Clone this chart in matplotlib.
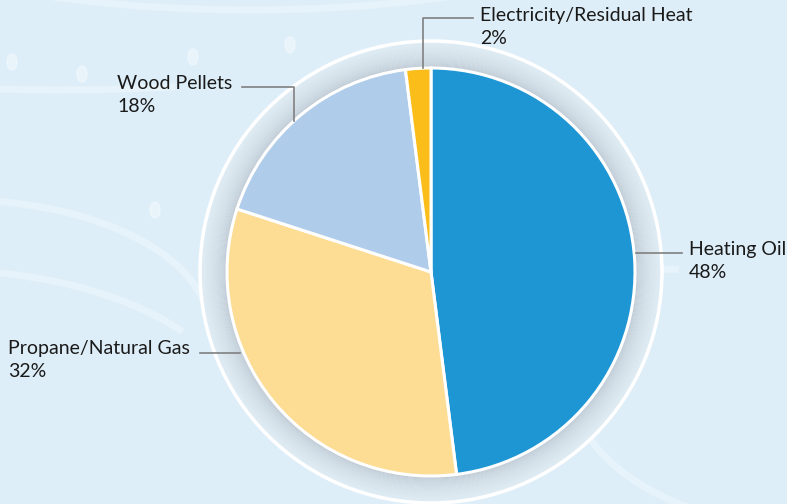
import matplotlib.pyplot as plt
import numpy as np
from matplotlib.patches import Wedge, Circle, Arc, Ellipse

# data
labels = ['Heating Oil', 'Propane/Natural Gas', 'Wood Pellets', 'Electricity/Residual Heat']
shares = [48, 32, 18, 2]
colors = ['#1e96d4', '#fddc94', '#afcdea', '#fbbd19']

# label layout (pixels, origin top-left): text x, first-line baseline y, leader elbow
text_pos = [(689, 255), (8, 354), (117, 89), (480, 21)]
leader = [[(682, 253), (636, 253)],
          [(200, 353), (240, 353)],
          [(242, 87), (294, 87), (294, None)],
          [(473, 18), (423, 18), (423, None)]]

W, H = 787, 504
cx, cy, R = 431, 272, 204
fig = plt.figure(figsize=(W / 100, H / 100), dpi=100)
fig.patch.set_facecolor('#deeef8')
ax = fig.add_axes([0, 0, 1, 1])

def up(y):
    return H - y

# background decoration (faint waves and dots)
for (x, y, w, h, a1, a2) in [(250, -120, 900, 260, 180, 360), (60, -10, 900, 200, 180, 320),
                             (-60, 420, 600, 300, 20, 110), (-40, 330, 500, 260, 0, 90),
                             (820, 380, 500, 300, 180, 270), (700, 150, 600, 240, 180, 260)]:
    ax.add_patch(Arc((x, up(y)), w, h, theta1=a1, theta2=a2, color='white', lw=5, alpha=0.3, zorder=0))
for (x, y) in [(12, 62), (82, 74), (155, 210), (193, 57), (290, 45)]:
    ax.add_patch(Ellipse((x, up(y)), 10, 16, color='white', alpha=0.35, zorder=0))

# shadow band between pie and outer ring
n = 30
c0 = np.array([0.70, 0.74, 0.78])
c1 = np.array([0.88, 0.93, 0.96])
for i in range(n):
    t = i / (n - 1)
    r = R + 28 * (i + 1) / n
    ax.add_patch(Wedge((cx, up(cy)), r, 0, 360, width=28 / n + 0.3,
                       color=c0 + (c1 - c0) * t ** 0.4, lw=0, zorder=1))
ax.add_patch(Circle((cx, up(cy)), 231, fill=False, ec='white', lw=2.5, zorder=2))

ax.pie(shares, colors=colors, startangle=90, counterclock=False, radius=R,
       center=(cx, up(cy)), wedgeprops=dict(edgecolor='white', linewidth=2.2),
       frame=True)
ax.set_xlim(0, W)
ax.set_ylim(0, H)
ax.set_aspect('equal')
ax.axis('off')

for lab, s, (tx, ty), pts in zip(labels, shares, text_pos, leader):
    xs, ys = [], []
    for (px, py) in pts:
        if py is None:
            py = cy - np.sqrt(R ** 2 - (px - cx) ** 2)
        xs.append(px)
        ys.append(up(py))
    ax.plot(xs, ys, color='#808080', lw=1.2, zorder=5)
    ax.text(tx, up(ty), lab, fontsize=14, family='Lato',
            color='#1a1a1a', ha='left', va='baseline', zorder=6)
    ax.text(tx, up(ty + 23), str(s) + '%', fontsize=14, family='Lato',
            color='#1a1a1a', ha='left', va='baseline', zorder=6)

plt.savefig('out.png', dpi=100, facecolor=fig.get_facecolor())
